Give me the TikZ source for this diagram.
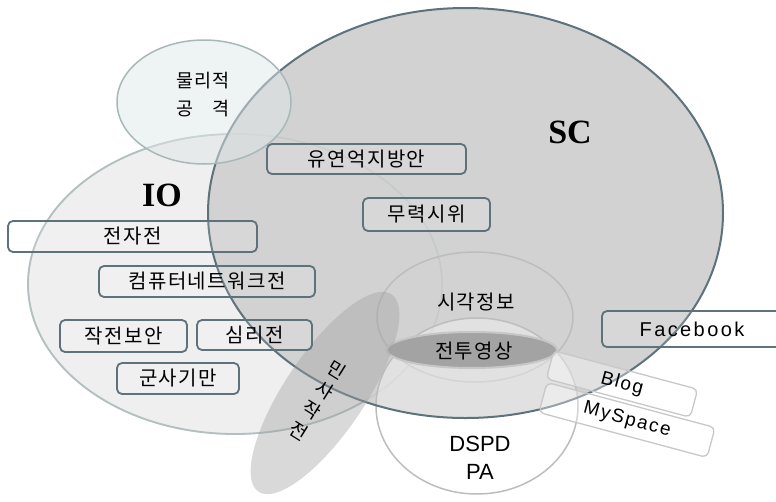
\documentclass[tikz,border=0pt]{standalone}
\usepackage{fontspec}
\setmainfont{Liberation Serif}
\newfontfamily\kr[LetterSpace=7]{Noto Sans CJK KR}
\newfontfamily\lat{Liberation Sans}
\newfontfamily\latsp[LetterSpace=12]{Liberation Sans}
\newfontfamily\latspb[LetterSpace=9]{Liberation Sans}
\definecolor{scfill}{HTML}{D2D2D2}
\definecolor{scline}{HTML}{5E727C}
\definecolor{iofill}{HTML}{EFEFEF}
\definecolor{ioline}{HTML}{B4BFC0}
\definecolor{physfill}{RGB}{222,231,231}
\definecolor{physline}{HTML}{A8B8B8}
\definecolor{lightline}{HTML}{BDBDBD}
\definecolor{combat}{HTML}{A3A3A3}
\definecolor{combatline}{HTML}{C6C6C6}
\definecolor{civil}{HTML}{A0A0A0}
\definecolor{blogline}{HTML}{C8C8C8}
\begin{document}
\begin{tikzpicture}[x=1pt,y=-1pt,
  box/.style={draw=scline, line width=1.8pt, rounded corners=5pt, fill=white, fill opacity=0.12, text opacity=1, inner sep=0pt, font=\kr\fontsize{20}{24}\selectfont},
  blogbox/.style={draw=blogline, line width=1.3pt, rounded corners=5pt, fill=white, fill opacity=0.35, inner sep=0pt},
  blogtext/.style={font=\latspb\fontsize{19}{22}\selectfont, inner sep=0pt},
  krtext/.style={font=\kr\fontsize{20}{24}\selectfont, inner sep=0pt, align=center},
  bigtext/.style={font=\bfseries\fontsize{34}{38}\selectfont, inner sep=0pt},
]
\useasboundingbox (0,0) rectangle (776,501);
\clip (0,0) rectangle (776,501);
% IO
\fill[iofill] (235,284) ellipse [x radius=207, y radius=150];
\draw[ioline, line width=1.8pt] (235,284) ellipse [x radius=207, y radius=150];
% SC fill
\fill[scfill] (465.5,213) ellipse [x radius=257.5, y radius=205];
% IO outline faintly visible through SC
\draw[ioline, line width=1.5pt, opacity=0.45] (235,284) ellipse [x radius=207, y radius=150];
% visual info
\draw[lightline, line width=1.5pt] (475,317) ellipse [x radius=98, y radius=65];
% DSPD / PA
\fill[white, fill opacity=0.35] (477,406) ellipse [x radius=101, y radius=88];
\draw[lightline, line width=1.5pt] (477,406) ellipse [x radius=101, y radius=88];
% combat imagery
\filldraw[fill=combat, draw=combatline, line width=2pt] (472,350) ellipse [x radius=85, y radius=18];
% SC outline
\draw[scline, line width=2pt] (465.5,213) ellipse [x radius=257.5, y radius=205];
% physical attack
\filldraw[fill=physfill, fill opacity=0.5, draw=physline, line width=1.5pt] (204,102) ellipse [x radius=87, y radius=62];
% civil operations
\fill[civil, fill opacity=0.4, rotate around={-34:(325,393)}] (325,393) ellipse [x radius=40, y radius=119];

% boxes
\node[box, minimum width=249, minimum height=31] (ew) at (132.5,236.5) {전자전};
\node[box, minimum width=216, minimum height=31] (cnw) at (207,281.5) {컴퓨터네트워크전};
\node[box, minimum width=127, minimum height=32] (opsec) at (123.5,336) {작전보안};
\node[box, minimum width=115, minimum height=30] (psy) at (254.5,335) {심리전};
\node[box, minimum width=122, minimum height=31] (mildec) at (178,378.5) {군사기만};
\node[box, minimum width=199, minimum height=30] (flex) at (366.5,159) {유연억지방안};
\node[box, minimum width=127, minimum height=33] (show) at (426.5,214.5) {무력시위};
\node[box, font=\latsp\fontsize{20}{24}\selectfont, minimum width=180, minimum height=36] (fb) at (692,329) {Facebook};
\node[blogbox, rotate=-15, minimum width=149, minimum height=29] (blogbox) at (622,384) {};
\node[blogbox, rotate=-15, minimum width=174, minimum height=31] (myspacebox) at (627,420) {};
\node[blogtext, rotate=-15] (blog) at (blogbox.center) {Blog};
\node[blogtext, rotate=-15] (myspace) at (myspacebox.center) {MySpace};

% labels
\node[bigtext] (sc) at (570,132) {SC};
\node[bigtext] (io) at (162,195) {IO};
\node[krtext, font=\kr\fontsize{18.5}{28}\selectfont] (phys) at (203,95) {물리적\\공\hspace{1em}격};
\node[krtext] (vis) at (476,302) {시각정보};
\node[krtext] (cbt) at (474,351) {전투영상};
\node[font=\lat\fontsize{22}{28}\selectfont, align=center, inner sep=0pt] (dspd) at (480,458) {DSPD\\PA};
\node[krtext, font=\kr\fontsize{19}{24}\selectfont, rotate=-32] (civ) at (318,400) {민\\사\\작\\전};
\end{tikzpicture}
\end{document}
